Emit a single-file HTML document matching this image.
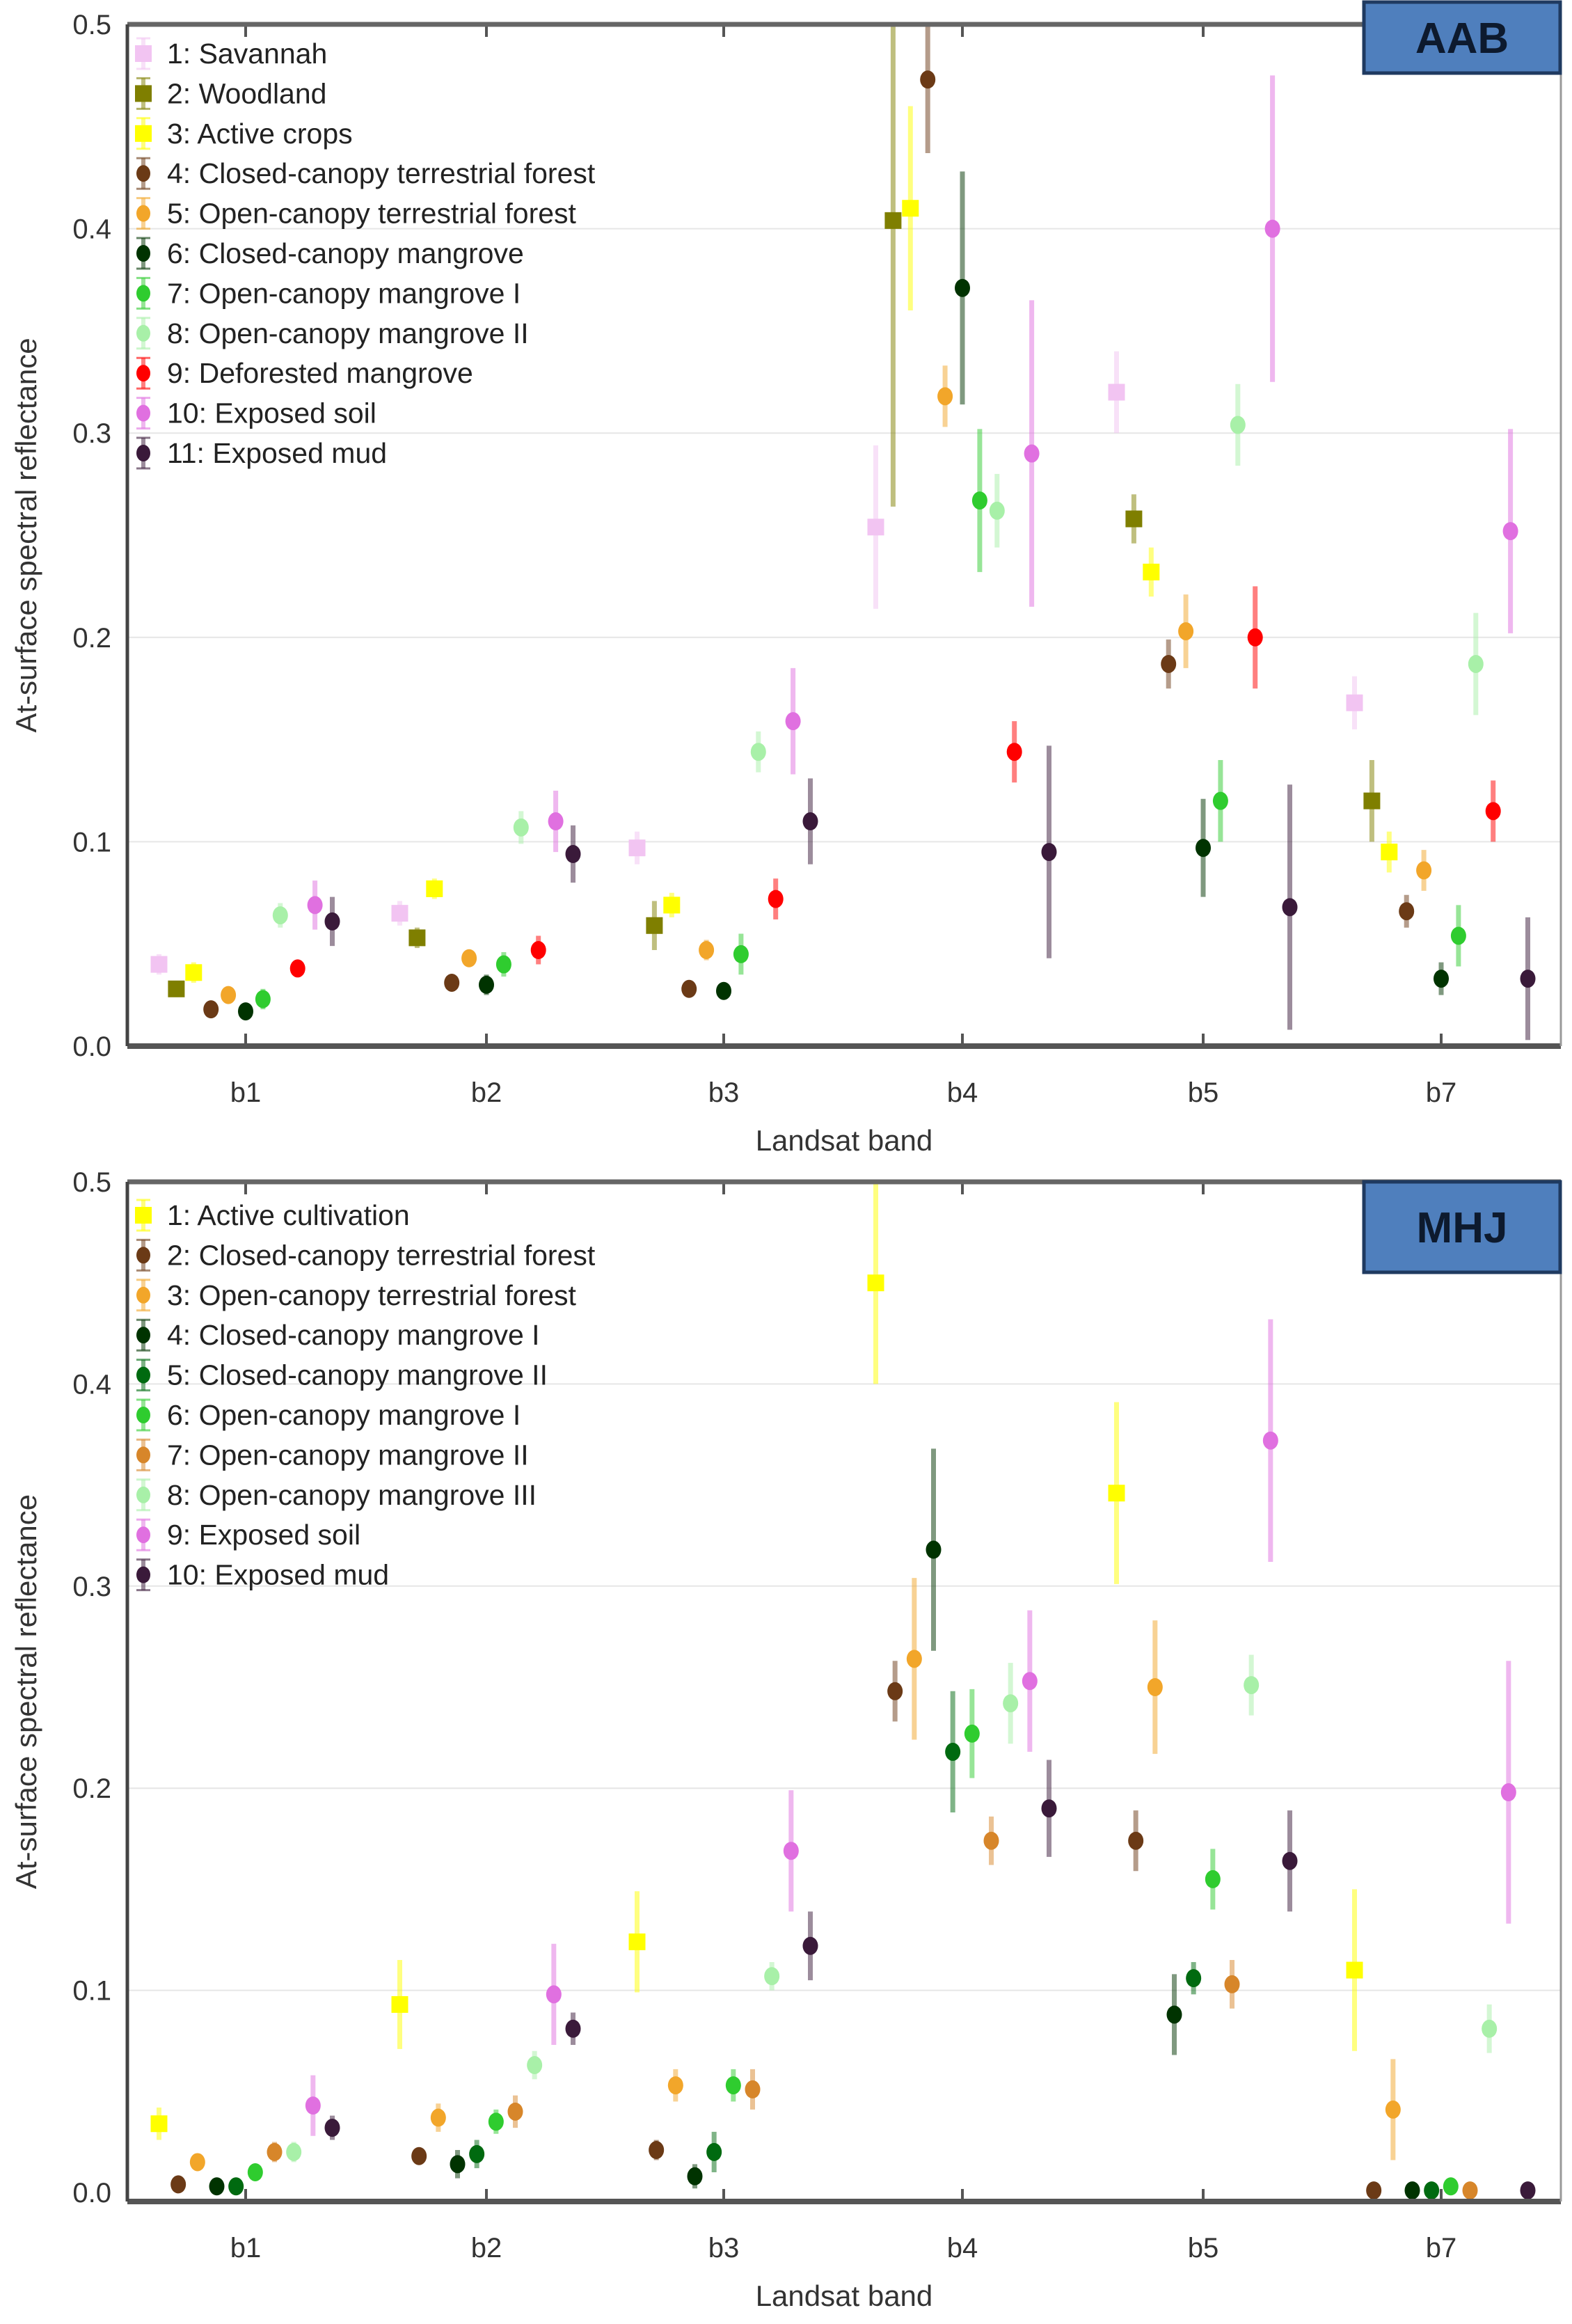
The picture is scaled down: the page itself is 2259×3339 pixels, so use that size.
<!DOCTYPE html>
<html><head><meta charset="utf-8">
<style>
html,body{margin:0;padding:0;background:#fff;}
svg{display:block;font-family:"Liberation Sans",Arial,sans-serif;}
</style></head>
<body>
<svg id="chart" width="2259" height="3339" viewBox="0 0 2259 3339" xmlns="http://www.w3.org/2000/svg"></svg>
<script>
// ---------- data ----------
const bands = ["b1","b2","b3","b4","b5","b7"];
const yTicks = ["0.0","0.1","0.2","0.3","0.4","0.5"];

const aabClasses = ["1: Savannah","2: Woodland","3: Active crops","4: Closed-canopy terrestrial forest","5: Open-canopy terrestrial forest","6: Closed-canopy mangrove","7: Open-canopy mangrove I","8: Open-canopy mangrove II","9: Deforested mangrove","10: Exposed soil","11: Exposed mud"];
const aabColors = ["#f2c4f2","#7f7f00","#ffff00","#6b3a16","#f2a62a","#003300","#2fcc2f","#a8f0a8","#ff0000","#e070e0","#3a1a3a"];
const aabShapes = ["sq","sq","sq","c","c","c","c","c","c","c","c"];
// means per class, per band (b1,b2,b3,b4,b5,b7)
const aabMean = [
 [0.040,0.065,0.097,0.254,0.320,0.168],
 [0.028,0.053,0.059,0.404,0.258,0.120],
 [0.036,0.077,0.069,0.410,0.232,0.095],
 [0.018,0.031,0.028,0.473,0.187,0.066],
 [0.025,0.043,0.047,0.318,0.203,0.086],
 [0.017,0.030,0.027,0.371,0.097,0.033],
 [0.023,0.040,0.045,0.267,0.120,0.054],
 [0.064,0.107,0.144,0.262,0.304,0.187],
 [0.038,0.047,0.072,0.144,0.200,0.115],
 [0.069,0.110,0.159,0.290,0.400,0.252],
 [0.061,0.094,0.110,0.095,0.068,0.033]
];
const aabErr = [
 [0.005,0.006,0.008,0.040,0.020,0.013],
 [0.004,0.005,0.012,0.140,0.012,0.020],
 [0.005,0.005,0.006,0.050,0.012,0.010],
 [0.004,0.004,0.004,0.036,0.012,0.008],
 [0.004,0.004,0.005,0.015,0.018,0.010],
 [0.004,0.005,0.004,0.057,0.024,0.008],
 [0.005,0.006,0.010,0.035,0.020,0.015],
 [0.006,0.008,0.010,0.018,0.020,0.025],
 [0.004,0.007,0.010,0.015,0.025,0.015],
 [0.012,0.015,0.026,0.075,0.075,0.050],
 [0.012,0.014,0.021,0.052,0.060,0.030]
];

const mhjClasses = ["1: Active cultivation","2: Closed-canopy terrestrial forest","3: Open-canopy terrestrial forest","4: Closed-canopy mangrove I","5: Closed-canopy mangrove II","6: Open-canopy mangrove I","7: Open-canopy mangrove II","8: Open-canopy mangrove III","9: Exposed soil","10: Exposed mud"];
const mhjColors = ["#ffff00","#6b3a16","#f2a62a","#003300","#006a10","#2fcc2f","#d7862a","#a8f0a8","#e070e0","#3a1a3a"];
const mhjShapes = ["sq","c","c","c","c","c","c","c","c","c"];
const mhjMean = [
 [0.034,0.093,0.124,0.450,0.346,0.110],
 [0.004,0.018,0.021,0.248,0.174,0.001],
 [0.015,0.037,0.053,0.264,0.250,0.041],
 [0.003,0.014,0.008,0.318,0.088,0.001],
 [0.003,0.019,0.020,0.218,0.106,0.001],
 [0.010,0.035,0.053,0.227,0.155,0.003],
 [0.020,0.040,0.051,0.174,0.103,0.001],
 [0.020,0.063,0.107,0.242,0.251,0.081],
 [0.043,0.098,0.169,0.253,0.372,0.198],
 [0.032,0.081,0.122,0.190,0.164,0.001]
];
const mhjErr = [
 [0.008,0.022,0.025,0.050,0.045,0.040],
 [0.004,0.004,0.005,0.015,0.015,0.002],
 [0.004,0.007,0.008,0.040,0.033,0.025],
 [0.003,0.007,0.006,0.050,0.020,0.002],
 [0.003,0.007,0.010,0.030,0.008,0.002],
 [0.004,0.006,0.008,0.022,0.015,0.003],
 [0.005,0.008,0.010,0.012,0.012,0.002],
 [0.005,0.007,0.007,0.020,0.015,0.012],
 [0.015,0.025,0.030,0.035,0.060,0.065],
 [0.006,0.008,0.017,0.024,0.025,0.003]
];

// ---------- drawing ----------
const NS = "http://www.w3.org/2000/svg";
const svg = document.getElementById("chart");
function mk(tag, attrs, parent){
  const e = document.createElementNS(NS, tag);
  for (const k in attrs) e.setAttribute(k, attrs[k]);
  (parent||svg).appendChild(e);
  return e;
}

function panel(cfg){
  const g = mk("g", {});
  
  
  const L = 183, R = 2243;
  const bandX = [353, 699, 1040, 1383, 1729, 2071];
  const y = v => cfg.y0 - v / 0.5 * (cfg.y0 - cfg.y5);
  const x = (b, i, n) => bandX[b] + (i - (n - 1) / 2) * (249 / (n - 1));
  for (let t = 1; t < yTicks.length; t++) {
    const gl = mk("line", {x1:L, x2:R, y1:y(t*0.1), y2:y(t*0.1), stroke:"#e6e6e6", "stroke-width":2}, g);
    
    
  }
  yTicks.forEach((lab, t) => {
    const tx = mk("text", {x:160, y:y(t*0.1)+14, "text-anchor":"end", "font-size":40, fill:"#333"}, g);
    tx.textContent = lab;
    
    
  });
  bands.forEach((b, i) => {
    const tx = mk("text", {x:bandX[i], y:cfg.axisY+80, "text-anchor":"middle", "font-size":40, fill:"#333"}, g);
    tx.textContent = b;
    
    
    mk("line", {x1:bandX[i], x2:bandX[i], y1:cfg.axisY, y2:cfg.axisY-18, stroke:"#555", "stroke-width":4}, g);
    mk("line", {x1:bandX[i], x2:bandX[i], y1:cfg.y5, y2:cfg.y5+18, stroke:"#555", "stroke-width":4}, g);
  });
  const n = cfg.classes.length;
  for (let c = 0; c < n; c++) {
    for (let b = 0; b < bands.length; b++) {
      const cx = x(b, c, n), m = cfg.mean[c][b], e = cfg.err[c][b];
      const top = Math.max(y(m + e), cfg.y5), bot = Math.min(y(m - e), cfg.axisY);
      const eb = mk("line", {x1:cx, x2:cx, y1:top, y2:bot, stroke:cfg.colors[c], "stroke-width":7, "stroke-opacity":0.5}, g);
      
      
      let mark;
      if (cfg.shapes[c] === "sq") {
        mark = mk("rect", {x:cx-12, y:y(m)-12, width:24, height:24, fill:cfg.colors[c]}, g);
      } else {
        mark = mk("ellipse", {cx:cx, cy:y(m), rx:11, ry:13, fill:cfg.colors[c]}, g);
      }
      
      
    }
  }
  mk("line", {x1:L, x2:R, y1:cfg.y5, y2:cfg.y5, stroke:"#666", "stroke-width":7}, g);
  mk("line", {x1:L, x2:R, y1:cfg.axisY, y2:cfg.axisY, stroke:"#555", "stroke-width":8}, g);
  mk("line", {x1:L, x2:L, y1:cfg.y5, y2:cfg.axisY, stroke:"#444", "stroke-width":5}, g);
  mk("line", {x1:R, x2:R, y1:cfg.y5, y2:cfg.axisY, stroke:"#999", "stroke-width":3}, g);
  cfg.classes.forEach((lab, c) => {
    const ly = cfg.legY + c * 57.4;
    const lg = mk("g", {}, g);
    
    
    mk("line", {x1:206, x2:206, y1:ly-22, y2:ly+22, stroke:cfg.colors[c], "stroke-width":6, "stroke-opacity":0.5}, lg);
    mk("line", {x1:196, x2:216, y1:ly-22, y2:ly-22, stroke:cfg.colors[c], "stroke-width":3, "stroke-opacity":0.6}, lg);
    mk("line", {x1:196, x2:216, y1:ly+22, y2:ly+22, stroke:cfg.colors[c], "stroke-width":3, "stroke-opacity":0.6}, lg);
    if (cfg.shapes[c] === "sq") mk("rect", {x:194, y:ly-12, width:24, height:24, fill:cfg.colors[c]}, lg);
    else mk("ellipse", {cx:206, cy:ly, rx:10, ry:12, fill:cfg.colors[c]}, lg);
    const t = mk("text", {x:240, y:ly+14, "font-size":41, fill:"#222"}, lg);
    t.textContent = lab;
  });
  const bx = mk("rect", {x:1960, y:cfg.boxY, width:282, height:cfg.boxH, fill:"#4f7fbd", stroke:"#1f3a60", "stroke-width":5}, g);
  
  
  const bt = mk("text", {x:2101, y:cfg.boxY+cfg.boxH/2+22, "text-anchor":"middle", "font-size":62, "font-weight":"bold", fill:"#0d1a2e"}, g);
  bt.textContent = cfg.site;
  
  
  const xt = mk("text", {x:1213, y:cfg.axisY+150, "text-anchor":"middle", "font-size":42, fill:"#333"}, g);
  xt.textContent = "Landsat band";
  
  
  const cy = (cfg.y5 + cfg.axisY) / 2;
  const yt = mk("text", {x:0, y:0, transform:`translate(52,${cy}) rotate(-90)`, "text-anchor":"middle", "font-size":42, fill:"#333"}, g);
  yt.textContent = "At-surface spectral reflectance";
  
  
}

panel({name:"aab-panel", site:"AAB", y0:1503, y5:35, axisY:1503, legY:77, boxY:3, boxH:102,
  classes:aabClasses, colors:aabColors, shapes:aabShapes, mean:aabMean, err:aabErr});
panel({name:"mhj-panel", site:"MHJ", y0:3150, y5:1698, axisY:3163, legY:1746, boxY:1698, boxH:130,
  classes:mhjClasses, colors:mhjColors, shapes:mhjShapes, mean:mhjMean, err:mhjErr});
</script>
</body></html>
